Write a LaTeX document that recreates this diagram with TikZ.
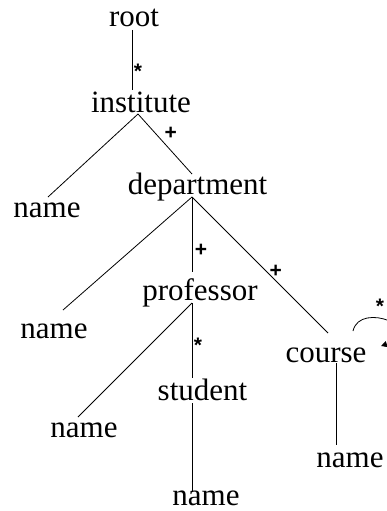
\documentclass[tikz,border=0pt]{standalone}
\usepackage{fontspec}
\setmainfont{Liberation Serif}
\newfontfamily\labelfont{Liberation Sans}
\usetikzlibrary{calc,arrows.meta}
\begin{document}
\begin{tikzpicture}[x=1pt,y=-1pt,
  elem/.style={inner sep=0pt, anchor=base, font=\fontsize{31}{31}\selectfont},
  edge/.style={draw=black, line width=0.8pt},
  lab/.style={inner sep=0pt, font=\labelfont\bfseries\fontsize{21}{21}\selectfont}]
  \clip (0,0) rectangle (387,511);
  \useasboundingbox (0,0) rectangle (387,511);

  % element nodes, placed by their baselines
  \node[elem] (root)    at (134,27)    {root};
  \node[elem] (inst)    at (141,112)   {institute};
  \node[elem] (nameA)   at (47,217)    {name};
  \node[elem] (dept)    at (197.5,194) {department};
  \node[elem] (nameB)   at (54,338)    {name};
  \node[elem] (prof)    at (200,300)   {professor};
  \node[elem] (course)  at (326,362)   {course};
  \node[elem] (student) at (202.5,400) {student};
  \node[elem] (nameC)   at (84,437)    {name};
  \node[elem] (nameD)   at (350,467)   {name};
  \node[elem] (nameE)   at (206,505)   {name};

  % ends of the recursive course edge
  \coordinate (loopS) at (353,331);
  \coordinate (loopE) at (381,346);

  % tree edges with cardinality marks
  \draw[edge] ($(root.base)+(-2,3)$) -- node[lab, pos=0.63, xshift=6pt, yshift=-3pt]{*} ($(inst.base)+(-9,-22)$);
  \draw[edge] ($(inst.base)+(-3,2)$) -- ($(nameA.base)+(1,-20)$);
  \draw[edge] ($(inst.base)+(-3,2)$) -- node[lab, pos=0.33, xshift=15pt]{+} ($(dept.base)+(-5.5,-20)$);
  \draw[edge] ($(dept.base)+(-5.5,3)$) -- ($(nameB.base)+(9,-28)$);
  \draw[edge] ($(dept.base)+(-5.5,3)$) -- node[lab, pos=0.71, xshift=9pt]{+} ($(prof.base)+(-8,-28)$);
  \draw[edge] ($(dept.base)+(-5.5,3)$) -- node[lab, pos=0.55, xshift=9pt]{+} ($(course.base)+(2,-29)$);
  \draw[edge] ($(prof.base)+(-8,3)$) -- ($(nameC.base)+(-6,-20)$);
  \draw[edge] ($(prof.base)+(-8,3)$) -- node[lab, pos=0.52, xshift=6pt, yshift=-3pt]{*} ($(student.base)+(-10.5,-22)$);
  \draw[edge] ($(student.base)+(-10.5,3)$) -- ($(nameE.base)+(-14,-13)$);
  \draw[edge] ($(course.base)+(10,1)$) -- ($(nameD.base)+(-14,-22)$);

  % recursive course edge
  \draw[edge, -{Triangle[length=6pt,width=6pt]}]
    (loopS) .. controls (360,300) and (430,330) .. (loopE);
  \node[lab] (loopLab) at (380,306) {*};
\end{tikzpicture}
\end{document}
